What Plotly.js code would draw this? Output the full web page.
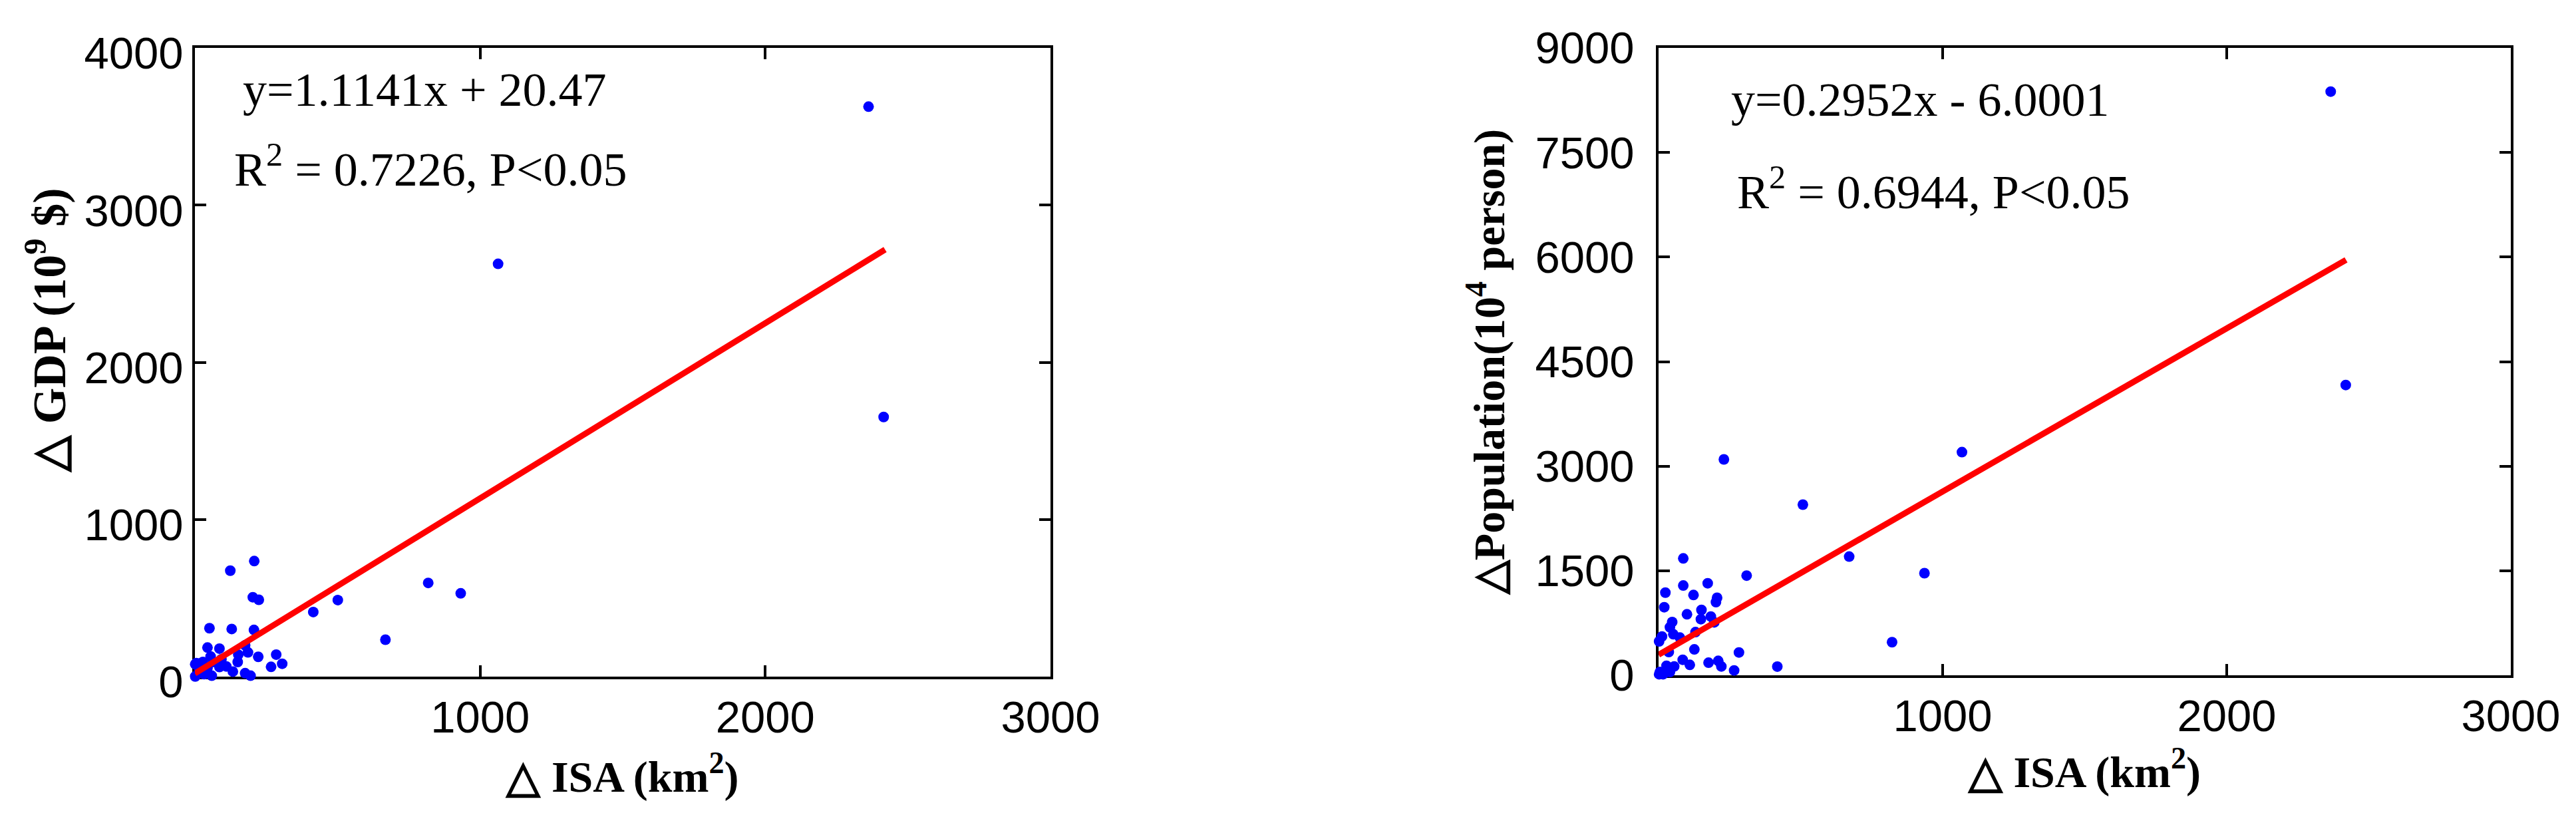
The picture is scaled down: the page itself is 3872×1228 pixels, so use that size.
<!DOCTYPE html>
<html><head><meta charset="utf-8">
<script src="https://cdn.plot.ly/plotly-3.0.1.min.js"></script>
<style>html,body{margin:0;padding:0;background:#fff;} #chart{width:3872px;height:1228px;}</style>
</head><body><div id="chart"></div>
<script>
// ΔISA (km²) vs ΔGDP (10^9 $)
const gdpIsaX = [2362, 1063, 2415, 818, 932, 668, 501, 415,
  208, 124, 203, 224, 51, 129, 207, 44, 86, 176, 186, 222, 285, 306, 267, 152, 150, 133, 176, 195, 110, 86, 55, 64, 5, 28, 1, 32, 59, 16, 44, 93, 24, 1];
const gdpY = [3626, 2626, 1652, 596, 530, 235, 487, 411,
  735, 674, 505, 489, 308, 303, 297, 185, 178, 199, 154, 126, 140, 82, 62, 140, 93, 32, 22, 6, 65, 61, 128, 93, 86, 93, 1, 16, 6, 40, 55, 110, 86, 79];
// ΔISA (km²) vs ΔPopulation (10^4 person)
const popIsaX = [2366, 2419, 1068, 230, 508, 671, 936, 822, 310, 87, 418,
  87, 173, 24, 123, 206, 202, 20, 100, 151, 149, 184, 196, 48, 40, 52, 75, 130, 12, 2, 36, 126, 283, 266, 176, 210, 221, 85, 110, 55, 28, 5, 40, 2, 16];
const popY = [8373, 4164, 3201, 3097, 2448, 1703, 1465, 475, 1430, 1677, 125,
  1288, 1320, 1186, 1152, 1113, 1050, 977, 875, 938, 805, 843, 760, 764, 690, 589, 541, 620, 557, 487, 334, 372, 328, 70, 181, 207, 127, 223, 150, 127, 137, 48, 48, 15, 15];
// fitted lines (end points)
const gdpFitX = [0, 2420];
const gdpFitY = [20, 2717];
const popFitX = [0, 2420];
const popFitY = [295, 5960];
// ticks
const isaTicks = [1000, 2000, 3000];
const gdpTicks = [0, 1000, 2000, 3000, 4000];
const popTicks = [0, 1500, 3000, 4500, 6000, 7500, 9000];
// texts
const gdpEq = 'y=1.1141x + 20.47';
const gdpStat = 'R<sup>2</sup> = 0.7226, P&lt;0.05';
const popEq = 'y=0.2952x - 6.0001';
const popStat = 'R<sup>2</sup> = 0.6944, P&lt;0.05';
const isaTitle = '<b>△ ISA (km<sup>2</sup>)</b>';
const gdpTitle = '<b>△ GDP (10<sup>9</sup> $)</b>';
const popTitle = '<b>△Population(10<sup>4</sup> person)</b>';

const serif = 'Liberation Serif, Times New Roman, serif';
const sans = 'Liberation Sans, Arial, sans-serif';

const pointStyle = {mode: 'markers', type: 'scatter', cliponaxis: false,
  marker: {color: 'rgb(0,0,255)', size: 16}, showlegend: false, hoverinfo: 'skip'};
const lineStyle = {mode: 'lines', type: 'scatter', cliponaxis: false,
  line: {color: 'rgb(255,0,0)', width: 9}, showlegend: false, hoverinfo: 'skip'};

const data = [
  Object.assign({x: gdpIsaX, y: gdpY, xaxis: 'x', yaxis: 'y'}, pointStyle),
  Object.assign({x: gdpFitX, y: gdpFitY, xaxis: 'x', yaxis: 'y'}, lineStyle),
  Object.assign({x: popIsaX, y: popY, xaxis: 'x2', yaxis: 'y2'}, pointStyle),
  Object.assign({x: popFitX, y: popFitY, xaxis: 'x2', yaxis: 'y2'}, lineStyle)
];

function axis(extra) {
  return Object.assign({
    showline: true, mirror: 'ticks', linecolor: '#000', linewidth: 4,
    ticks: 'inside', ticklen: 17, tickwidth: 4, tickcolor: '#000',
    showgrid: false, zeroline: false, layer: 'below traces',
    tickfont: {family: sans, size: 67, color: '#000'}, automargin: false
  }, extra);
}
const titleFont = {family: serif, size: 66, color: '#000'};

const layout = {
  width: 3872, height: 1228,
  margin: {l: 293, r: 98, t: 72, b: 211},
  paper_bgcolor: '#fff', plot_bgcolor: '#fff',
  xaxis: axis({domain: [0, 0.36943], range: [0, 3000], tickvals: isaTicks, anchor: 'y',
    title: {text: isaTitle, font: titleFont, standoff: 30}}),
  yaxis: axis({domain: [0, 1], range: [0, 4000], tickvals: gdpTicks, anchor: 'x',
    ticklabelshift: 8}),
  xaxis2: axis({domain: [0.632, 1], range: [0, 3000], tickvals: isaTicks, anchor: 'y2',
    title: {text: isaTitle, font: titleFont, standoff: 25}}),
  yaxis2: axis({domain: [0.0021, 1], range: [0, 9000], tickvals: popTicks, anchor: 'x2',
    ticklabelstandoff: 19,
    title: {text: popTitle, font: titleFont, standoff: 25}}),
  annotations: [
    {xref: 'paper', yref: 'paper', x: -0.0644, y: 0.5513, xanchor: 'center', yanchor: 'middle', textangle: -90,
      text: gdpTitle, showarrow: false, font: {family: serif, size: 70, color: '#000'}},
    {xref: 'x', yref: 'y', x: 164, y: 3735, xanchor: 'left', yanchor: 'middle', text: gdpEq, showarrow: false, font: {family: serif, size: 72, color: '#000'}},
    {xref: 'x', yref: 'y', x: 132, y: 3247, xanchor: 'left', yanchor: 'middle', text: gdpStat, showarrow: false, font: {family: serif, size: 72, color: '#000'}},
    {xref: 'x2', yref: 'y2', x: 251, y: 8256, xanchor: 'left', yanchor: 'middle', text: popEq, showarrow: false, font: {family: serif, size: 72, color: '#000'}},
    {xref: 'x2', yref: 'y2', x: 272, y: 6986, xanchor: 'left', yanchor: 'middle', text: popStat, showarrow: false, font: {family: serif, size: 72, color: '#000'}}
  ]
};

Plotly.newPlot('chart', data, layout, {staticPlot: true, displayModeBar: false});
</script>
</body></html>
